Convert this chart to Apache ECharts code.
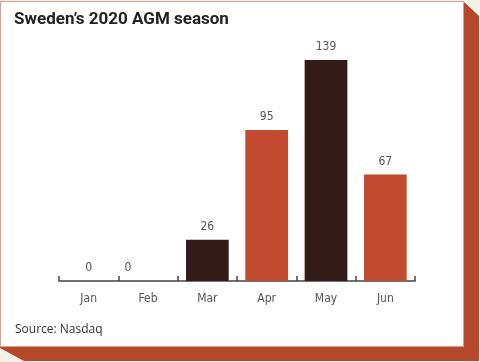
<!DOCTYPE html>
<html><head><meta charset="utf-8">
<style>html,body{margin:0;padding:0;background:#f4f1e6;}#c{width:480px;height:362px;}</style>
<script src="https://cdn.jsdelivr.net/npm/echarts@6/dist/echarts.min.js"></script>
</head><body><div id="c"></div>
<script>
const categories = ['Jan','Feb','Mar','Apr','May','Jun'];
const values = [0, 0, 26, 95, 139, 67];
const barColors = ['#c24a30','#331c17','#331c17','#c24a30','#331c17','#c24a30'];
const labelOffsets = [[0,0],[-20,0],[0,0],[0,0],[0,0],[0,0]];

const condFont = '"DejaVu Sans Condensed", "Liberation Sans Narrow", sans-serif';
const chart = echarts.init(document.getElementById('c'), null, {renderer:'canvas'});
chart.setOption({
  backgroundColor: '#f4f1e6',
  animation: false,
  graphic: [
    {type:'polygon', z:-10, shape:{points:[[464,2],[479,16],[479,361],[24,361],[0,348],[0,346],[464,346]]}, style:{fill:'#b5472b'}},
    {type:'rect', z:-9, shape:{x:0.5,y:1.5,width:463,height:345}, style:{fill:'#ffffff', stroke:'#e0a08c', lineWidth:1}},
    {type:'text', left:14, top:11, style:{text:'Sweden\u2019s 2020 AGM season', font:'bold 17px Roboto', fill:'#222'}},
    {type:'text', left:15, top:324, style:{text:'Source: Nasdaq', font:'12px "Open Sans"', fill:'#333'}}
  ],
  grid: {left:59, right:65, top:42.5, bottom:81},
  xAxis: {
    type:'category', data:categories,
    axisLine:{lineStyle:{color:'#444', width:1.5}},
    axisTick:{show:true, inside:true, length:5, alignWithLabel:false, lineStyle:{color:'#444', width:1.5}},
    axisLabel:{color:'#555', fontSize:12, fontFamily:condFont, margin:12}
  },
  yAxis: {type:'value', min:0, max:150, show:false, splitLine:{show:false}},
  series: [{
    type:'bar', barCategoryGap:'28%',
    data: values.map((v,i)=>({value:v, itemStyle:{color:barColors[i]}, label:{offset:labelOffsets[i]}})),
    label:{show:true, position:'top', distance:7, color:'#555', fontSize:12, fontFamily:condFont}
  }]
});
</script></body></html>
